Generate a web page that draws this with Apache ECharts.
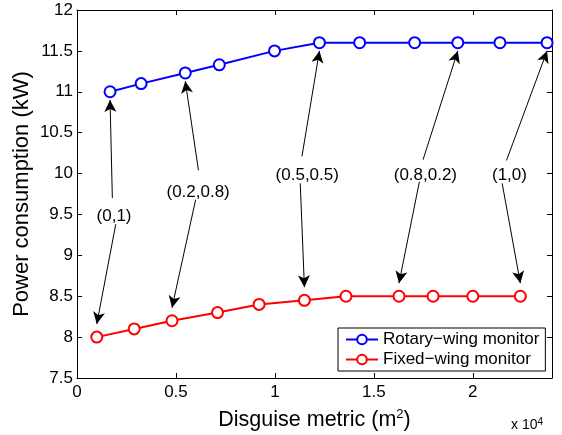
<!DOCTYPE html>
<html>
<head>
<meta charset="utf-8">
<script src="https://cdn.jsdelivr.net/npm/echarts@6/dist/echarts.min.js"></script>
<style>
html,body{margin:0;padding:0;background:#fff;}
#chart{width:562px;height:435px;}
</style>
</head>
<body>
<div id="chart"></div>
<script>
// ---- data ----
const seriesNames = ['Rotary\u2212wing monitor', 'Fixed\u2212wing monitor'];
const rotaryX = [1670, 3240, 5470, 7190, 9980, 12250, 14280, 17060, 19240, 21370, 23750];
const rotaryY = [11.0, 11.1, 11.23, 11.33, 11.5, 11.6, 11.6, 11.6, 11.6, 11.6, 11.6];
const fixedX = [1000, 2890, 4800, 7100, 9200, 11490, 13590, 16270, 17990, 20000, 22400];
const fixedY = [8.0, 8.1, 8.2, 8.3, 8.4, 8.45, 8.5, 8.5, 8.5, 8.5, 8.5];

// annotations: label text, label position, arrow tails, target point indices
const annLabels = ['(0,1)', '(0.2,0.8)', '(0.5,0.5)', '(0.8,0.2)', '(1,0)'];
const annX = [1871, 6120, 11634, 17602, 21851];
const annY = [9.48, 9.77, 9.98, 9.98, 9.98];
const tailUpX = [1786, 6136, 11366, 17486, 21700];
const tailUpY = [9.70, 10.04, 10.21, 10.17, 10.16];
const tailDownX = [1958, 5994, 11280, 17299, 21482];
const tailDownY = [9.38, 9.68, 9.88, 9.90, 9.88];
const targetRotary = [0, 2, 5, 8, 10];
const targetFixed = [0, 2, 5, 7, 10];

const xTickLabels = ['0', '0.5', '1', '1.5', '2'];
const yTickLabels = ['7.5', '8', '8.5', '9', '9.5', '10', '10.5', '11', '11.5', '12'];

// ---- build ----
const FONT = 'Liberation Sans, Arial, Helvetica, sans-serif';
const upGap = 0.1, downGap = 0.16;

const arrows = [];
for (let i = 0; i < annLabels.length; i++) {
  const r = targetRotary[i], f = targetFixed[i];
  arrows.push([{coord: [tailUpX[i], tailUpY[i]]}, {coord: [rotaryX[r], rotaryY[r] - upGap]}]);
  arrows.push([{coord: [tailDownX[i], tailDownY[i]]}, {coord: [fixedX[f], fixedY[f] + downGap]}]);
}

const chart = echarts.init(document.getElementById('chart'));
const baseAxisLine = {show: true, onZero: false, lineStyle: {color: '#000', width: 1}};
const tickStyle = {show: true, inside: true, length: 5, lineStyle: {color: '#000', width: 1}};

chart.setOption({
  animation: false,
  backgroundColor: '#fff',
  textStyle: {fontFamily: FONT},
  grid: {left: 77, right: 10, top: 10, bottom: 57, containLabel: false, outerBoundsMode: 'none'},
  legend: {
    data: seriesNames,
    orient: 'vertical',
    left: 338, top: 328,
    width: 210,
    padding: [3, 6, 3, 7],
    itemGap: 3,
    itemWidth: 32, itemHeight: 12,
    borderColor: '#000', borderWidth: 1,
    backgroundColor: '#fff',
    textStyle: {fontFamily: FONT, fontSize: 17, color: '#000'}
  },
  xAxis: [{
    type: 'value', min: 0, max: 24000, interval: 5000,
    position: 'bottom',
    name: 'Disguise metric (m{sup|2})',
    nameLocation: 'middle', nameGap: 30,
    nameTextStyle: {fontFamily: FONT, fontSize: 21.5, color: '#000',
      rich: {sup: {fontFamily: FONT, fontSize: 13, color: '#000', verticalAlign: 'top', padding: [0, 0, 12, 0]}}},
    axisLine: baseAxisLine, axisTick: tickStyle, splitLine: {show: false},
    axisLabel: {color: '#000', fontFamily: FONT, fontSize: 17, margin: 6, showMaxLabel: false,
      formatter: v => { const i = Math.round(v / 5000); return (v % 5000 === 0 && i < xTickLabels.length) ? xTickLabels[i] : ''; }}
  }, {
    type: 'value', min: 0, max: 24000, interval: 5000, position: 'top',
    axisLine: baseAxisLine, axisTick: tickStyle, splitLine: {show: false}, axisLabel: {show: false}
  }],
  yAxis: [{
    type: 'value', min: 7.5, max: 12, interval: 0.5, position: 'left',
    name: 'Power consumption (kW)',
    nameLocation: 'middle', nameGap: 44, nameMoveOverlap: false,
    nameTextStyle: {fontFamily: FONT, fontSize: 22, color: '#000'},
    axisLine: baseAxisLine, axisTick: tickStyle, splitLine: {show: false},
    axisLabel: {color: '#000', fontFamily: FONT, fontSize: 17, margin: 4,
      formatter: v => { const i = Math.round((v - 7.5) / 0.5); return yTickLabels[i] || ''; }}
  }, {
    type: 'value', min: 7.5, max: 12, interval: 0.5, position: 'right',
    axisLine: baseAxisLine, axisTick: tickStyle, splitLine: {show: false}, axisLabel: {show: false}
  }],
  series: [{
    name: seriesNames[0], type: 'line',
    data: rotaryX.map((x, i) => [x, rotaryY[i]]),
    symbol: 'emptyCircle', symbolSize: 11, showAllSymbol: true,
    lineStyle: {color: '#0000ff', width: 2},
    itemStyle: {color: '#0000ff', borderColor: '#0000ff', borderWidth: 2},
    z: 3
  }, {
    name: seriesNames[1], type: 'line',
    data: fixedX.map((x, i) => [x, fixedY[i]]),
    symbol: 'emptyCircle', symbolSize: 11, showAllSymbol: true,
    lineStyle: {color: '#ff0000', width: 2},
    itemStyle: {color: '#ff0000', borderColor: '#ff0000', borderWidth: 2},
    z: 3
  }, {
    name: 'annotations', type: 'scatter',
    data: annX.map((x, i) => ({value: [x, annY[i]], label: {formatter: annLabels[i]}})),
    symbolSize: 0, silent: true,
    itemStyle: {opacity: 1},
    label: {show: true, position: 'inside', color: '#000', opacity: 1, fontFamily: FONT, fontSize: 17},
    markLine: {
      silent: true, animation: false,
      symbol: ['none', 'arrow'], symbolSize: [9, 12],
      lineStyle: {color: '#000', width: 1, type: 'solid', opacity: 1},
      label: {show: false},
      emphasis: {disabled: true},
      data: arrows
    },
    z: 4
  }],
  graphic: [{
    type: 'text', left: 511, top: 417,
    style: {text: 'x 10{sup|4}', fontFamily: FONT, fontSize: 14, fill: '#000',
      rich: {sup: {fontFamily: FONT, fontSize: 10, fill: '#000', verticalAlign: 'top', padding: [0, 0, 7, 0]}}}
  }]
});
</script>
</body>
</html>
